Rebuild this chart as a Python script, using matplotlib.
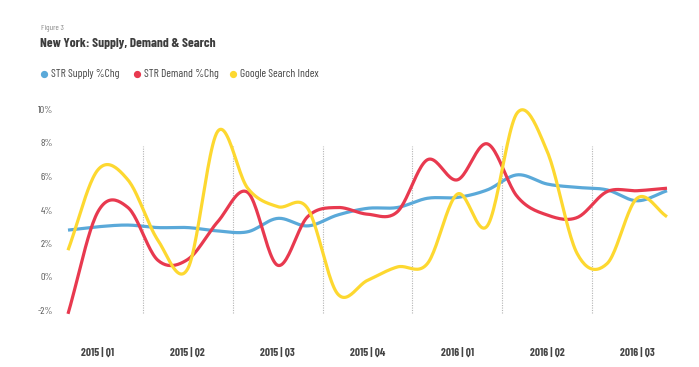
import numpy as np
import matplotlib.pyplot as plt
from matplotlib.lines import Line2D
from matplotlib import font_manager

names = set(f.name for f in font_manager.fontManager.ttflist)
fam = 'Roboto'
for cand in ['Barlow Condensed', 'Roboto Condensed', 'Archivo Narrow']:
    if cand in names:
        fam = cand
        break
plt.rcParams['font.family'] = [fam, 'DejaVu Sans']

# monthly values, Jan 2015 .. Sep 2016
supply = [2.8, 3.0, 3.1, 2.95, 2.95, 2.75, 2.7, 3.5, 3.05, 3.7, 4.1, 4.15, 4.7, 4.75, 5.2, 6.1, 5.55, 5.35, 5.2, 4.55, 5.15]
demand = [-2.2, 3.9, 4.15, 1.0, 1.05, 3.3, 5.05, 0.7, 3.6, 4.15, 3.75, 3.9, 7.0, 5.8, 7.95, 4.8, 3.7, 3.55, 5.1, 5.15, 5.3]
search = [1.6, 6.4, 5.8, 2.2, 0.5, 8.7, 5.3, 4.2, 4.1, -1.0, -0.2, 0.6, 0.8, 4.95, 3.05, 9.8, 7.5, 1.4, 0.8, 4.7, 3.6]
series_names = ['STR Supply %Chg', 'STR Demand %Chg', 'Google Search Index']
colors = ['#5aa9d9', '#e8394f', '#fdd830']
quarters = ['2015 | Q1', '2015 | Q2', '2015 | Q3', '2015 | Q4', '2016 | Q1', '2016 | Q2', '2016 | Q3']
yticks = [-2, 0, 2, 4, 6, 8, 10]


def smooth(y, n=24):
    # catmull-rom through the monthly points
    y = np.asarray(y, float)
    p = np.concatenate([[2 * y[0] - y[1]], y, [2 * y[-1] - y[-2]]])
    xs, ys = [], []
    t = np.linspace(0, 1, n, endpoint=False)
    for i in range(len(y) - 1):
        p0, p1, p2, p3 = p[i], p[i + 1], p[i + 2], p[i + 3]
        v = 0.5 * (2 * p1 + (-p0 + p2) * t + (2 * p0 - 5 * p1 + 4 * p2 - p3) * t ** 2
                   + (-p0 + 3 * p1 - 3 * p2 + p3) * t ** 3)
        xs.extend(i + t)
        ys.extend(v)
    xs.append(len(y) - 1)
    ys.append(y[-1])
    return np.array(xs), np.array(ys)


W, H = 699, 367
fig = plt.figure(figsize=(W / 100, H / 100), dpi=100)
ax = fig.add_axes([60 / W, 1 - 320 / H, 620 / W, 220 / H])

step = 29.95
ax.set_xlim((60 - 68) / step, (680 - 68) / step)
ax.set_ylim((277 - 320) / 16.75, (277 - 100) / 16.75)

for k in range(6):
    xq = 2.5 + 3 * k
    ax.plot([xq, xq], [-2.15, 7.85], color='#b5b5b5', lw=0.8, ls=(0, (1, 1.2)), zorder=1)

for data, c in zip([supply, demand, search], colors):
    xs, ys = smooth(data)
    ax.plot(xs, ys, color=c, lw=2.3, solid_capstyle='butt', zorder=3)

ax.set_yticks(yticks)
ax.set_yticklabels([str(v) + '%' for v in yticks], fontsize=7.5, color='#555555')
ax.set_xticks([1 + 3 * k for k in range(len(quarters))])
ax.set_xticklabels(quarters, fontsize=8, color='#444444', fontweight='bold')
ax.tick_params(axis='y', length=0, pad=5)
ax.tick_params(axis='x', length=0, pad=20)
for s in ax.spines.values():
    s.set_visible(False)

fig.text(41 / W, 1 - 28 / H, 'Figure 3', fontsize=6, color='#8a8a8a', va='center')
fig.text(40 / W, 1 - 43.5 / H, 'New York: Supply, Demand & Search', fontsize=9.6,
         fontweight='bold', color='#3d3d3d', va='center')

dots = [44, 137, 233]
for x0, name, c in zip(dots, series_names, colors):
    fig.add_artist(Line2D([x0 / W], [1 - 74 / H], marker='o', ms=4.2, color=c,
                          transform=fig.transFigure))
    fig.text((x0 + 7) / W, 1 - 74 / H, name, fontsize=8.2, color='#444444', va='center')

fig.savefig('out.png', dpi=100)
